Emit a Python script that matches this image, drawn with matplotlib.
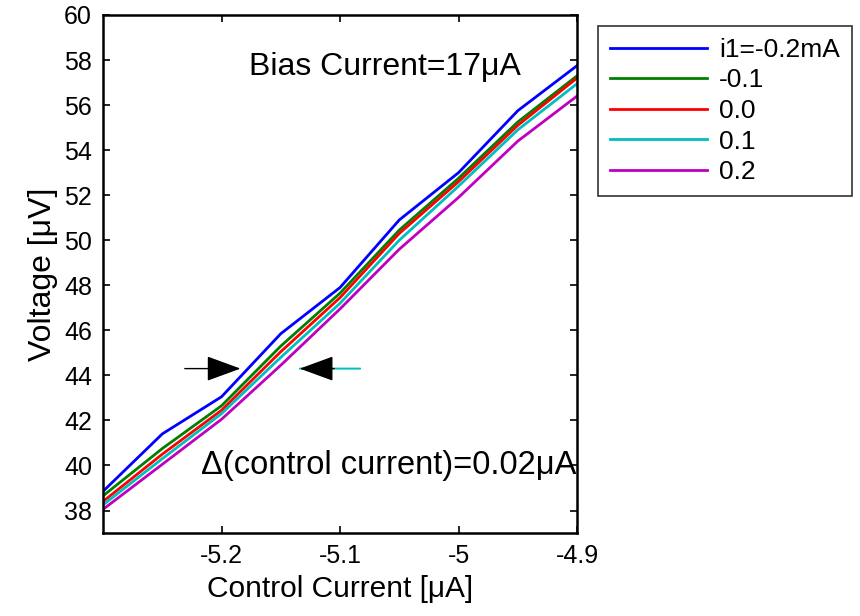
import matplotlib
matplotlib.use("Agg")
import matplotlib.pyplot as plt

plt.rcParams['font.family'] = ['Liberation Sans', 'DejaVu Sans']

control_current = [-5.30, -5.25, -5.20, -5.15, -5.10, -5.05, -5.00, -4.95, -4.90]
v_m02 = [38.85, 41.4, 43.05, 45.85, 47.9, 50.9, 53.0, 55.75, 57.75]
v_m01 = [38.65, 40.75, 42.65, 45.3, 47.65, 50.45, 52.75, 55.25, 57.3]
v_00 = [38.4, 40.5, 42.45, 45.05, 47.45, 50.3, 52.6, 55.1, 57.2]
v_p01 = [38.25, 40.3, 42.3, 44.8, 47.2, 50.0, 52.4, 54.9, 56.95]
v_p02 = [38.05, 40.05, 42.05, 44.45, 46.95, 49.6, 51.9, 54.4, 56.4]
labels = ['i1=-0.2mA', '-0.1', '0.0', '0.1', '0.2']
colors = ['#0000ff', '#007f00', '#ff0000', '#00bfbf', '#bf00bf']
series = [v_m02, v_m01, v_00, v_p01, v_p02]
xticks = [-5.2, -5.1, -5.0, -4.9]
xticklabels = ['-5.2', '-5.1', '-5', '-4.9']
yticks = list(range(38, 61, 2))

fig = plt.figure(figsize=(8.6, 6.16), dpi=100)
ax = fig.add_axes([0.1198, 0.1347, 0.5512, 0.841])

lines = []
for y, c, l in zip(series, colors, labels):
    ln, = ax.plot(control_current, y, color=c, lw=2.0, label=l)
    lines.append(ln)

ax.set_xlim(-5.3, -4.9)
ax.set_ylim(37, 60)
ax.set_xticks(xticks)
ax.set_xticklabels(xticklabels)
ax.set_yticks(yticks)
ax.tick_params(direction='in', top=True, right=True, length=5, width=1.2,
               labelsize=18, pad=8)
for s in ax.spines.values():
    s.set_linewidth(1.8)
    s.set_color('black')

ax.set_xlabel('Control Current [μA]', fontsize=21.5, labelpad=5)
ax.set_ylabel('Voltage [μV]', fontsize=23, labelpad=4)

ax.text(-5.177, 57.7, 'Bias Current=17μA', fontsize=23, ha='left', va='center')
ax.text(-5.217, 40.0, 'Δ(control current)=0.02μA', fontsize=23.5, ha='left', va='center')

head = '-|>,head_length=0.6,head_width=0.22'
ax.annotate('', xy=(-5.184, 44.3), xytext=(-5.231, 44.3),
            arrowprops=dict(arrowstyle=head, color='black', lw=1.0,
                            mutation_scale=36, shrinkA=0, shrinkB=0))
ax.annotate('', xy=(-5.134, 44.3), xytext=(-5.083, 44.3),
            arrowprops=dict(arrowstyle='-', color='#00bfbf', lw=1.4,
                            shrinkA=0, shrinkB=0))
ax.annotate('', xy=(-5.134, 44.3), xytext=(-5.105, 44.3),
            arrowprops=dict(arrowstyle=head, color='black', lw=1.0,
                            mutation_scale=36, shrinkA=0, shrinkB=0))

leg = fig.legend(handles=lines, loc='upper left',
                 bbox_to_anchor=(0.695, 0.958), fontsize=19,
                 frameon=True, fancybox=False, handlelength=3.7,
                 labelspacing=0.25, borderpad=0.45, handletextpad=0.45,
                 borderaxespad=0)
leg.get_frame().set_edgecolor('black')
leg.get_frame().set_linewidth(1.2)

fig.savefig('out.png', dpi=100)
